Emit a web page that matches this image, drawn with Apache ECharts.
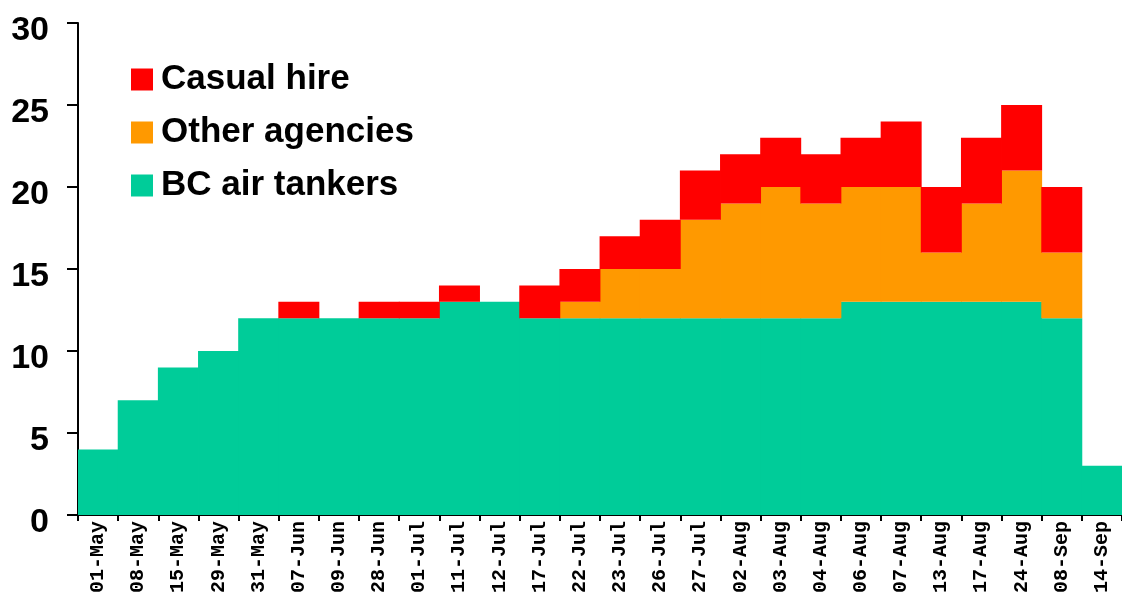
<!DOCTYPE html>
<html>
<head>
<meta charset="utf-8">
<script src="https://cdn.jsdelivr.net/npm/echarts@6/dist/echarts.min.js"></script>
<style>html,body{margin:0;padding:0;background:#fff}#c{width:1122px;height:597px}</style>
</head>
<body>
<div id="c"></div>
<script>
const categories = ['01-May','08-May','15-May','29-May','31-May','07-Jun','09-Jun','28-Jun','01-Jul','11-Jul','12-Jul','17-Jul','22-Jul','23-Jul','26-Jul','27-Jul','02-Aug','03-Aug','04-Aug','06-Aug','07-Aug','13-Aug','17-Aug','24-Aug','08-Sep','14-Sep'];
const bcAirTankers = [4,7,9,10,12,12,12,12,12,13,13,12,12,12,12,12,12,12,12,13,13,13,13,13,12,3];
const otherAgencies = [0,0,0,0,0,0,0,0,0,0,0,0,1,3,3,6,7,8,7,7,7,3,6,8,4,0];
const casualHire = [0,0,0,0,0,1,0,1,1,1,0,2,2,2,3,3,3,3,3,3,4,4,4,4,4,0];
const yTicks = [0,5,10,15,20,25,30];

const chart = echarts.init(document.getElementById('c'), null, {renderer:'canvas'});
function clean(arr){return arr.map(function(v){return v === 0 ? '-' : v;});}
chart.setOption({
  animation:false,
  grid:{left:78, top:23, width:1050, bottom:82, containLabel:false},
  legend:{
    orient:'vertical', left:126, top:57,
    data:['Casual hire','Other agencies','BC air tankers'],
    itemWidth:22, itemHeight:22, itemGap:18, icon:'rect',
    textStyle:{fontFamily:'Liberation Sans', fontWeight:'bold', fontSize:35, color:'#000', padding:[0,0,0,3]}
  },
  xAxis:{
    type:'category', data:categories,
    axisLine:{lineStyle:{color:'#000', width:2}},
    axisTick:{show:true, length:6, lineStyle:{color:'#000', width:2}, alignWithLabel:false},
    axisLabel:{rotate:90, interval:0, margin:6, color:'#000', fontFamily:'Liberation Mono', fontWeight:'bold', fontSize:20}
  },
  yAxis:{
    type:'value', min:0, max:30, interval:5,
    splitLine:{show:false},
    axisLine:{show:true, lineStyle:{color:'#000', width:2}},
    axisTick:{show:true, length:11, lineStyle:{color:'#000', width:2}},
    axisLabel:{margin:29, color:'#000',
      formatter:function(v){return yTicks.indexOf(v)>=0 ? '{t|' + v + '}' : '';},
      rich:{t:{fontFamily:'Liberation Sans', fontWeight:'bold', fontSize:34, color:'#000', padding:[15,0,0,0]}}
    }
  },
  series:[
    {name:'BC air tankers', type:'bar', stack:'a', data:clean(bcAirTankers), barWidth:41, itemStyle:{color:'#00CC99'}},
    {name:'Other agencies', type:'bar', stack:'a', data:clean(otherAgencies), barWidth:41, itemStyle:{color:'#FF9900'}},
    {name:'Casual hire', type:'bar', stack:'a', data:clean(casualHire), barWidth:41, itemStyle:{color:'#FF0000'}}
  ]
});
</script>
</body>
</html>
